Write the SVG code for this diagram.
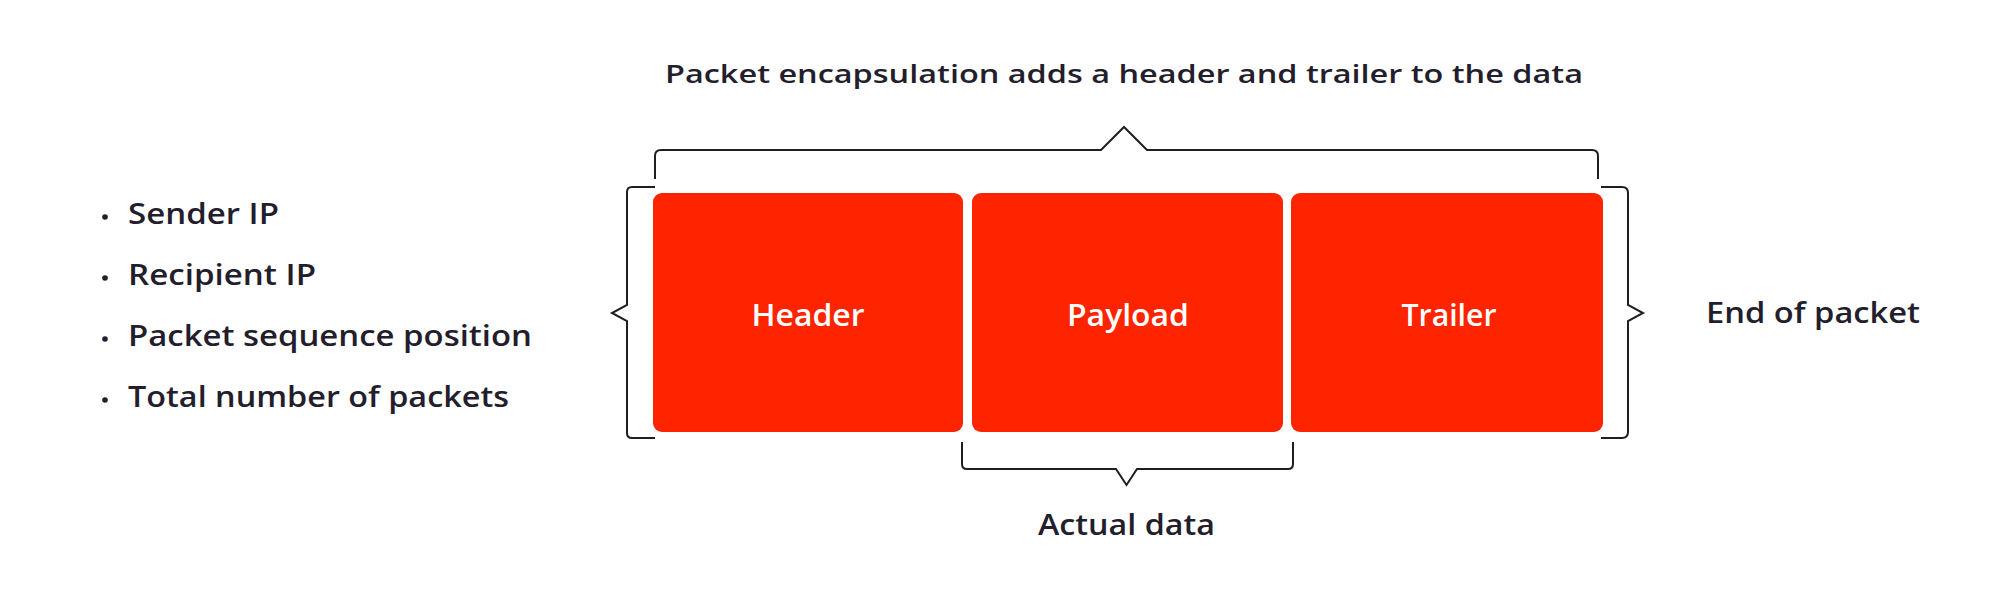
<svg xmlns="http://www.w3.org/2000/svg" width="1999" height="600" viewBox="0 0 1999 600">
<style>
.t{font-family:"Open Sans","Liberation Sans",sans-serif;font-weight:600;fill:#231d2c}
.w{font-family:"Open Sans","Liberation Sans",sans-serif;font-weight:600;fill:#ffffff;font-size:30px}
.box{fill:#ff2400}
.br{fill:none;stroke:#1f1f1f;stroke-width:2;stroke-linejoin:miter}
</style>
<rect width="1999" height="600" fill="#ffffff"/>
<g id="title"><text class="t" x="665" y="83" font-size="26" textLength="918" lengthAdjust="spacingAndGlyphs">Packet encapsulation adds a header and trailer to the data</text></g>
<g id="fields">
<circle cx="105" cy="217" r="2.8" fill="#231d2c"/>
<text class="t" x="128" y="224" font-size="29" textLength="151" lengthAdjust="spacingAndGlyphs">Sender IP</text>
<circle cx="105" cy="278" r="2.8" fill="#231d2c"/>
<text class="t" x="128" y="285" font-size="29" textLength="188" lengthAdjust="spacingAndGlyphs">Recipient IP</text>
<circle cx="105" cy="339" r="2.8" fill="#231d2c"/>
<text class="t" x="128" y="346" font-size="29" textLength="404" lengthAdjust="spacingAndGlyphs">Packet sequence position</text>
<circle cx="105" cy="400" r="2.8" fill="#231d2c"/>
<text class="t" x="128" y="407" font-size="29" textLength="381" lengthAdjust="spacingAndGlyphs">Total number of packets</text>
</g>
<g id="header"><rect class="box" x="653" y="193" width="310" height="239" rx="9"/><text class="w" x="808" y="326" text-anchor="middle" textLength="113" lengthAdjust="spacingAndGlyphs">Header</text></g>
<g id="payload"><rect class="box" x="972" y="193" width="311" height="239" rx="9"/><text class="w" x="1128" y="326" text-anchor="middle" textLength="122" lengthAdjust="spacingAndGlyphs">Payload</text></g>
<g id="trailer"><rect class="box" x="1291" y="193" width="312" height="239" rx="9"/><text class="w" x="1449" y="326" text-anchor="middle" textLength="95" lengthAdjust="spacingAndGlyphs">Trailer</text></g>
<g id="end-label"><text class="t" x="1706" y="323" font-size="28" textLength="214" lengthAdjust="spacingAndGlyphs">End of packet</text></g>
<g id="data-label"><text class="t" x="1038" y="535" font-size="28" textLength="177" lengthAdjust="spacingAndGlyphs">Actual data</text></g>
<g id="connectors">
<path class="br" d="M655,179 V156 Q655,150 661,150 H1101 L1124,127 L1147,150 H1592 Q1598,150 1598,156 V179"/>
<path class="br" d="M655,187 H632 Q627,187 627,192 V305 L612,313 L627,321 V433 Q627,438 632,438 H655"/>
<path class="br" d="M1601,187 H1622 Q1628,187 1628,193 V305 L1643,313 L1628,321 V432 Q1628,438 1622,438 H1601"/>
<path class="br" d="M962,442 V464 Q962,469 967,469 H1116 L1126.5,485 L1137,469 H1288 Q1293,469 1293,464 V442"/>
</g>
</svg>
